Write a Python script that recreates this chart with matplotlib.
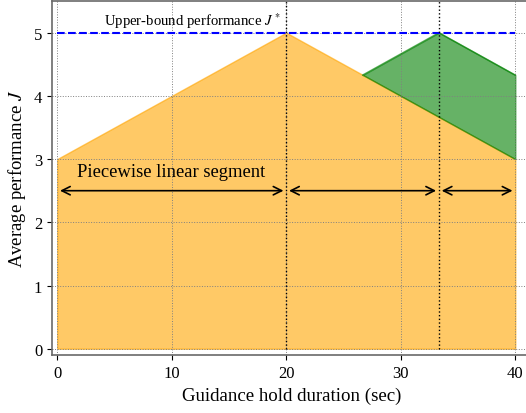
import matplotlib.pyplot as plt
import numpy as np

plt.rcParams['font.family'] = ['Liberation Serif', 'DejaVu Serif']
plt.rcParams['mathtext.fontset'] = 'stix'

# piecewise linear performance curve and the shifted segment
base_x = [0, 20, 40]
base_y = [3, 5, 3]
shift_x = [26.67, 33.33, 40]
shift_y = [4.33, 5, 4.33]
upper_bound = 5
breaks = [0, 20, 33.33, 40]
arrow_y = 2.5

fig = plt.figure(figsize=(5.26, 4.14), dpi=100)
ax = fig.add_axes([0.099, 0.14, 0.91, 0.855])

ax.fill_between(base_x, 0, base_y, color='orange', alpha=0.6, lw=1)

lower = np.interp(shift_x, base_x, base_y)
ax.fill_between(shift_x, lower, shift_y, color='green', alpha=0.6, lw=1)
ax.plot(shift_x, shift_y, color='green', lw=1, alpha=0.6)

ax.hlines(upper_bound, 0, 40, colors='blue', linestyles='--', lw=1.5)
ax.text(4.1, 5.2, 'Upper-bound performance $J^*$', fontsize=10.6, va='center')

ax.vlines(breaks[1:3], 0, 5.5, colors='black', linestyles=':', lw=1)

for a, b in zip(breaks[:-1], breaks[1:]):
    ax.annotate('', xy=(a, arrow_y), xytext=(b, arrow_y),
                arrowprops=dict(arrowstyle='<->', color='black', lw=1.2,
                                mutation_scale=15))
ax.text(1.75, 2.8, 'Piecewise linear segment', fontsize=13.4, va='center')

ax.set_xlim(-0.45, 41.35)
ax.set_ylim(-0.1, 5.5)
ax.set_xticks([0, 10, 20, 30, 40])
ax.set_yticks([0, 1, 2, 3, 4, 5])
ax.tick_params(labelsize=12)
ax.grid(True, linestyle=':', color='gray', lw=0.7)
for s in ax.spines.values():
    s.set_color('dimgray')
    s.set_linewidth(1.2)

ax.set_xlabel('Guidance hold duration (sec)', fontsize=13.6)
ax.set_ylabel('Average performance $J$', fontsize=13.5)

fig.savefig('out.png')
